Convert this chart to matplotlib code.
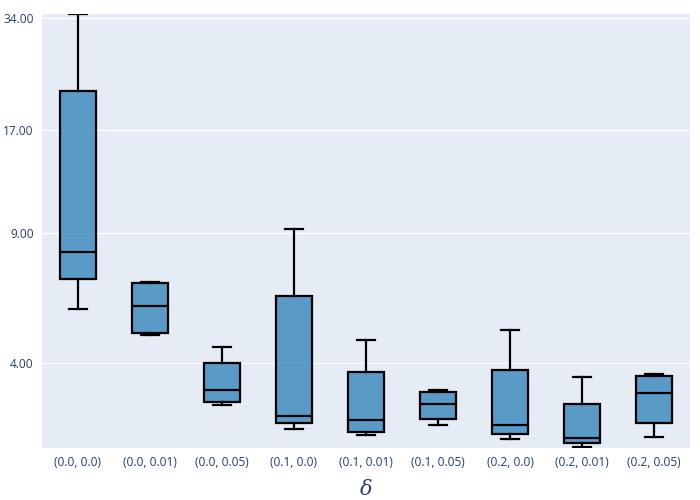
import matplotlib
matplotlib.use("Agg")
import matplotlib.pyplot as plt
from matplotlib.ticker import FixedLocator, FixedFormatter, NullLocator

# box statistics (log y axis)
labels = ['(0.0, 0.0)', '(0.0, 0.01)', '(0.0, 0.05)', '(0.1, 0.0)', '(0.1, 0.01)',
          '(0.1, 0.05)', '(0.2, 0.0)', '(0.2, 0.01)', '(0.2, 0.05)']
whislo = [5.61, 4.77, 3.09, 2.66, 2.56, 2.72, 2.50, 2.38, 2.54]
q1 = [6.74, 4.83, 3.14, 2.76, 2.61, 2.83, 2.58, 2.44, 2.76]
med = [8.00, 5.70, 3.39, 2.89, 2.81, 3.11, 2.72, 2.52, 3.33]
q3 = [21.6, 6.59, 4.00, 6.06, 3.79, 3.34, 3.84, 3.10, 3.70]
whishi = [34.9, 6.63, 4.42, 9.20, 4.63, 3.39, 4.91, 3.67, 3.74]
yticks = [4, 9, 17, 34]

font = 'Open Sans'
tick_color = '#2a3f5f'

stats = []
for i in range(len(labels)):
    stats.append(dict(label=labels[i], whislo=whislo[i], q1=q1[i], med=med[i],
                      q3=q3[i], whishi=whishi[i], fliers=[]))

fig = plt.figure(figsize=(7, 5), dpi=100)
ax = fig.add_axes([0.06, 0.1046, 0.9257, 0.8674])
ax.set_facecolor('#E5ECF6')

lw = 1.6
ax.bxp(stats, positions=range(len(labels)), widths=0.5, patch_artist=True,
       showfliers=False,
       boxprops=dict(facecolor=(0.122, 0.467, 0.706, 0.7), edgecolor='black', linewidth=lw),
       medianprops=dict(color='black', linewidth=lw),
       whiskerprops=dict(color='black', linewidth=lw),
       capprops=dict(color='black', linewidth=lw),
       capwidths=0.25, zorder=3)

ax.set_yscale('log')
ax.set_ylim(2.37, 34.9)
ax.set_xlim(-0.5, len(labels) - 0.5)
ax.yaxis.set_major_locator(FixedLocator(yticks))
ax.yaxis.set_major_formatter(FixedFormatter(['%.2f' % t for t in yticks]))
ax.yaxis.set_minor_locator(NullLocator())
ax.grid(axis='y', color='white', linewidth=1, zorder=0)
ax.set_axisbelow(True)
for s in ax.spines.values():
    s.set_visible(False)
ax.tick_params(length=0, labelsize=8.6, labelcolor=tick_color, pad=6)
ax.set_xticks(range(len(labels)))
ax.set_xticklabels(labels, fontfamily=font)
for t in ax.get_yticklabels():
    t.set_fontfamily(font)

ax.set_xlabel('δ', fontsize=15, fontstyle='italic', family='DejaVu Serif',
              color=tick_color, labelpad=8)

fig.savefig('out.png', dpi=100)
